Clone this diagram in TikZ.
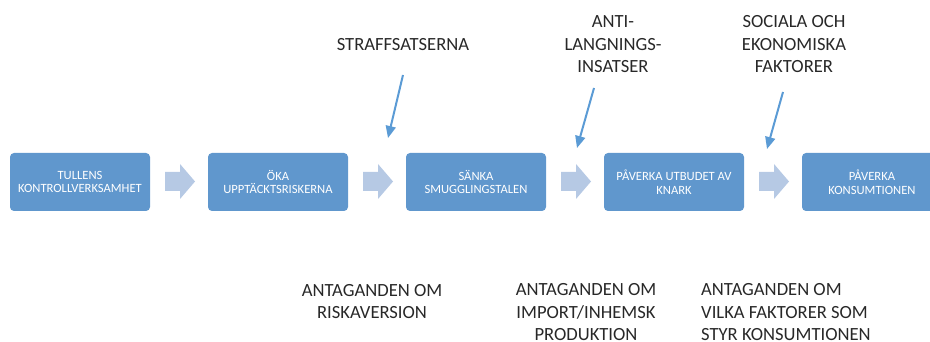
\documentclass[tikz,border=0pt]{standalone}
\usepackage{fontspec}
\setmainfont{Carlito}
\usetikzlibrary{arrows.meta,calc}
\definecolor{boxblue}{RGB}{96,151,205}
\definecolor{chevblue}{RGB}{182,201,228}
\definecolor{linkblue}{RGB}{91,155,213}
\definecolor{txtgray}{RGB}{40,40,40}
\tikzset{
  stepbox/.style={fill=boxblue,draw=none,rounded corners=4pt,minimum width=140pt,minimum height=58pt,
    inner sep=0pt,text=white,align=center,font=\fontsize{12.6}{13.5}\selectfont},
  lbl/.style={text=txtgray,align=center,inner sep=0pt,anchor=base,font=\fontsize{18.6}{22.5}\selectfont},
  lblleft/.style={lbl,align=left,anchor=base west},
  influence/.style={draw=linkblue,line width=2pt,-{Triangle[length=12pt,width=10pt]}},
  chev/.style={fill=chevblue,draw=none}
}
\newcommand{\chevronat}[1]{%
  \fill[chev] ($(#1)+(-15,-9.5)$) -- ++(15,0) -- ++(0,-8) -- ++(15,17.5) -- ++(-15,17.5) -- ++(0,-8) -- ++(-15,0) -- cycle;}
\begin{document}
\begin{tikzpicture}[x=1pt,y=-1pt]
\useasboundingbox (0,0) rectangle (930,342);
\clip (0,0) rectangle (930,342);
\node[stepbox] (b1) at (80,182) {TULLENS\\KONTROLLVERKSAMHET};
\node[stepbox] (b2) at (278,182) {ÖKA\\UPPTÄCKTSRISKERNA};
\node[stepbox] (b3) at (476,182) {SÄNKA\\SMUGGLINGSTALEN};
\node[stepbox] (b4) at (674,182) {PÅVERKA UTBUDET AV\\KNARK};
\node[stepbox] (b5) at (872,182) {PÅVERKA\\KONSUMTIONEN};
\coordinate (c1) at (180,181.5);
\coordinate (c2) at (378,181.5);
\coordinate (c3) at (576,181.5);
\coordinate (c4) at (774,181.5);
\chevronat{c1}\chevronat{c2}\chevronat{c3}\chevronat{c4}
\node[lbl] (t1) at (403,50.5) {STRAFFSATSERNA};
\node[lbl] (t2) at (613,73) {ANTI-\\LANGNINGS-\\INSATSER};
\node[lbl] (t3) at (794,73) {SOCIALA OCH\\EKONOMISKA\\FAKTORER};
\coordinate (s1) at (403,75);
\coordinate (e1) at (388,138);
\coordinate (s2) at (594,88);
\coordinate (e2) at (577,148);
\coordinate (s3) at (783,92);
\coordinate (e3) at (767,149);
\draw[influence] (s1) -- (e1);
\draw[influence] (s2) -- (e2);
\draw[influence] (s3) -- (e3);
\node[lbl] (a1) at (372,318.5) {ANTAGANDEN OM\\RISKAVERSION};
\node[lbl] (a2) at (586,340.5) {ANTAGANDEN OM\\IMPORT/INHEMSK\\PRODUKTION};
\node[lblleft] (a3) at (701,340.5) {ANTAGANDEN OM\\VILKA FAKTORER SOM\\STYR KONSUMTIONEN};
\end{tikzpicture}
\end{document}
